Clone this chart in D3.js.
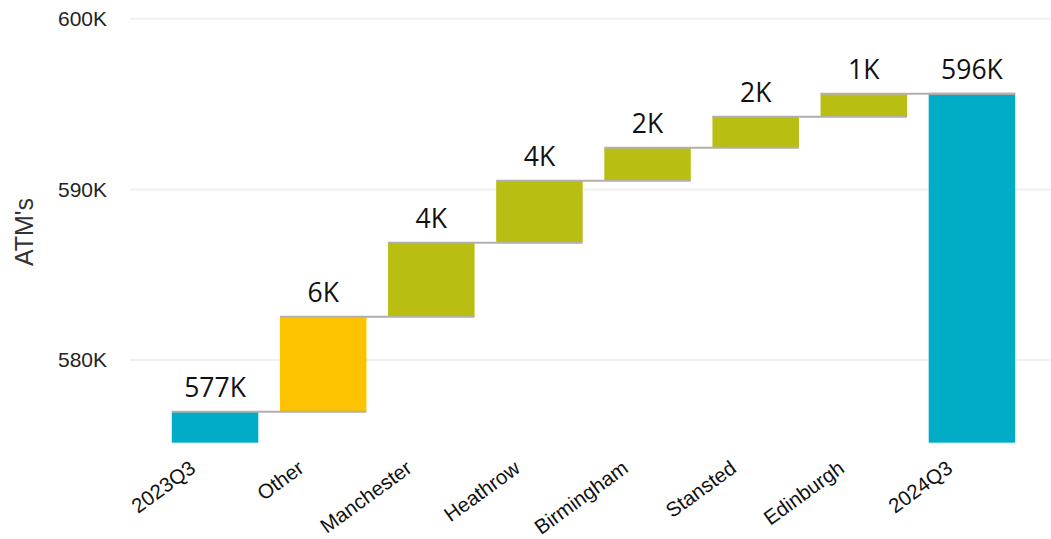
<!DOCTYPE html>
<html><head><meta charset="utf-8">
<script src="https://cdn.jsdelivr.net/npm/d3@7"></script>
<style>body{margin:0;background:#fff}svg{display:block}</style>
</head><body><svg id="c" width="1051" height="539"></svg>
<script>
const categories = ["2023Q3","Other","Manchester","Heathrow","Birmingham","Stansted","Edinburgh","2024Q3"];
const kinds = ["total","increase","increase","increase","increase","increase","increase","total"];
const deltas = [577.0, 5.57, 4.33, 3.63, 1.94, 1.82, 1.34, null];
const barLabels = ["577K","6K","4K","4K","2K","2K","1K","596K"];
const yTicks = [580, 590, 600];
const yTickLabels = ["580K","590K","600K"];
const colors = {total:"#01acc6", other:"#fdc300", increase:"#b9be13"};

const svg = d3.select("#c");
const x = d3.scaleBand().domain(categories).range([161,1026]).paddingInner(0.2).paddingOuter(0.1);
const y = d3.scaleLinear().domain([575.16, 600]).range([442.7, 18.7]);

let cum = 0; const bars = [];
categories.forEach((c,i)=>{
  if(kinds[i]==="total" && i===0){ bars.push({c,lo:y.domain()[0],hi:deltas[i],i}); cum=deltas[i]; }
  else if(kinds[i]==="total"){ bars.push({c,lo:y.domain()[0],hi:cum,i}); }
  else { bars.push({c,lo:cum,hi:cum+deltas[i],i}); cum+=deltas[i]; }
});

svg.append("g").selectAll("line").data(yTicks).join("line")
  .attr("x1",130).attr("x2",1051).attr("y1",d=>y(d)).attr("y2",d=>y(d))
  .attr("stroke","#f0f0f0").attr("stroke-width",2);
svg.append("g").selectAll("text").data(yTicks).join("text")
  .attr("x",107).attr("y",d=>y(d)).attr("dy","0.35em").attr("text-anchor","end")
  .attr("font-family","'Liberation Sans', Arial, sans-serif").attr("font-size",21).attr("fill","#252423")
  .text((d,i)=>yTickLabels[i]);
svg.append("text").attr("transform","translate(33,232) rotate(-90)").attr("text-anchor","middle")
  .attr("font-family","'Liberation Sans', Arial, sans-serif").attr("font-size",25).attr("fill","#333").text("ATM's");

svg.append("g").selectAll("rect").data(bars).join("rect")
  .attr("x",d=>x(d.c)).attr("width",x.bandwidth())
  .attr("y",d=>y(d.hi)).attr("height",d=>y(d.lo)-y(d.hi))
  .attr("fill",d=>kinds[d.i]==="total"?colors.total:(d.c==="Other"?colors.other:colors.increase));

const conn = bars.slice(0,-1).map((b,i)=>({x1:x(b.c), x2:x(categories[i+1])+x.bandwidth(), v:b.hi}));
svg.append("g").selectAll("line").data(conn).join("line")
  .attr("x1",d=>d.x1).attr("x2",d=>d.x2).attr("y1",d=>y(d.v)+0.5).attr("y2",d=>y(d.v)+0.5)
  .attr("stroke","#b3aeaa").attr("stroke-width",2);
svg.append("line").attr("x1",x(categories[7])).attr("x2",x(categories[7])+x.bandwidth())
  .attr("y1",y(bars[7].hi)+0.5).attr("y2",y(bars[7].hi)+0.5).attr("stroke","#b3aeaa").attr("stroke-width",2);

svg.append("g").selectAll("text").data(bars).join("text")
  .attr("x",d=>x(d.c)+x.bandwidth()/2).attr("y",d=>y(d.hi)-14)
  .attr("text-anchor","middle").attr("font-family","Open Sans, sans-serif").attr("font-size",26.5).attr("fill","#111")
  .text((d,i)=>barLabels[i]);

svg.append("g").selectAll("text").data(categories).join("text")
  .attr("transform",d=>`translate(${x(d)+x.bandwidth()/2-18},471) rotate(-36)`)
  .attr("text-anchor","end").attr("font-family","'Liberation Sans', Arial, sans-serif").attr("font-size",20.5).attr("fill","#111")
  .text(d=>d);
</script></body></html>
